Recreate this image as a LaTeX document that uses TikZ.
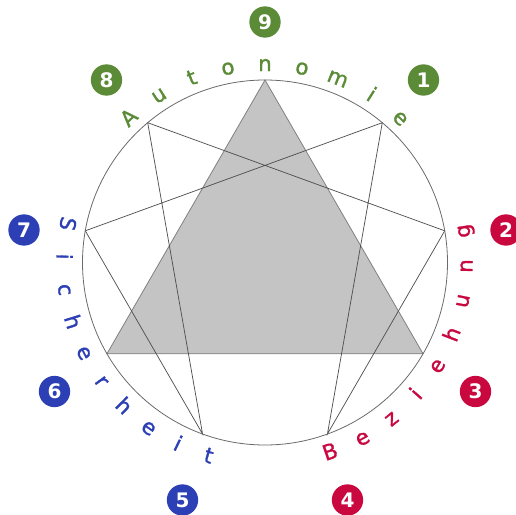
\documentclass[tikz,border=0pt]{standalone}
\usepackage{fontspec}
\setmainfont{DejaVu Sans}
\newfontfamily\arcfont{DejaVu Sans}[FakeBold=1.3]
\definecolor{eg}{HTML}{5B8B36}
\definecolor{er}{HTML}{C8083F}
\definecolor{eb}{HTML}{2C3FB4}
\definecolor{trifill}{HTML}{C4C4C4}
\definecolor{triline}{HTML}{808080}
\definecolor{starline}{HTML}{505050}
\definecolor{ringline}{HTML}{6A6A6A}
\begin{document}
\begin{tikzpicture}[x=0.75pt,y=0.75pt,
  badge/.style={circle, fill=#1, text=white, minimum size=23.5pt, inner sep=0pt,
    font=\fontsize{15}{15}\selectfont\bfseries},
  letter/.style={text=#1, inner sep=0pt, anchor=base,
    font=\arcfont\fontsize{16}{16}\selectfont},
  starl/.style={draw=starline, line width=0.55pt},
  ringl/.style={draw=ringline, line width=0.6pt}]
\useasboundingbox (-265,-252.5) rectangle (250,262.5);
\foreach \a/\n in {90/p9,50/p1,10/p2,-30/p3,-70/p4,-110/p5,-150/p6,170/p7,130/p8}
  \coordinate (\n) at (\a:182.5);
% triangle 9-3-6
\filldraw[fill=trifill, draw=triline, line width=0.6pt] (p9) -- (p3) -- (p6) -- cycle;
% hexad 1-4-2-8-5-7
\draw[starl] (p1) -- (p4) -- (p2) -- (p8) -- (p5) -- (p7) -- cycle;
% ring
\draw[ringl] (0,0) circle (182.5);
% words
\foreach \c [count=\i from 0] in {A,u,t,o,n,o,m,i,e} {
  \pgfmathsetmacro\ang{133.2-10.8*\i}
  \node[letter=eg, rotate=\ang-90] (au\i) at (\ang:191.5) {\c};
}
\foreach \c [count=\i from 0] in {S,i,c,h,e,r,h,e,i,t} {
  \pgfmathsetmacro\ang{168.9+9.43*\i}
  \node[letter=eb, rotate=\ang+90] (si\i) at (\ang:208.5) {\c};
}
\foreach \c [count=\i from 0] in {B,e,z,i,e,h,u,n,g} {
  \pgfmathsetmacro\ang{-71+10*\i}
  \node[letter=er, rotate=\ang+90] (be\i) at (\ang:207.5) {\c};
}
% badges
\node[badge=eg] (b9) at (0,240.5) {9};
\node[badge=eg] (b1) at (158.5,182.5) {1};
\node[badge=eg] (b8) at (-158.5,182.5) {8};
\node[badge=er] (b2) at (241,32.5) {2};
\node[badge=eb] (b7) at (-241,32.5) {7};
\node[badge=er] (b3) at (210.5,-129) {3};
\node[badge=eb] (b6) at (-210.5,-129) {6};
\node[badge=er] (b4) at (82.5,-237.5) {4};
\node[badge=eb] (b5) at (-82.5,-237.5) {5};
\end{tikzpicture}
\end{document}
